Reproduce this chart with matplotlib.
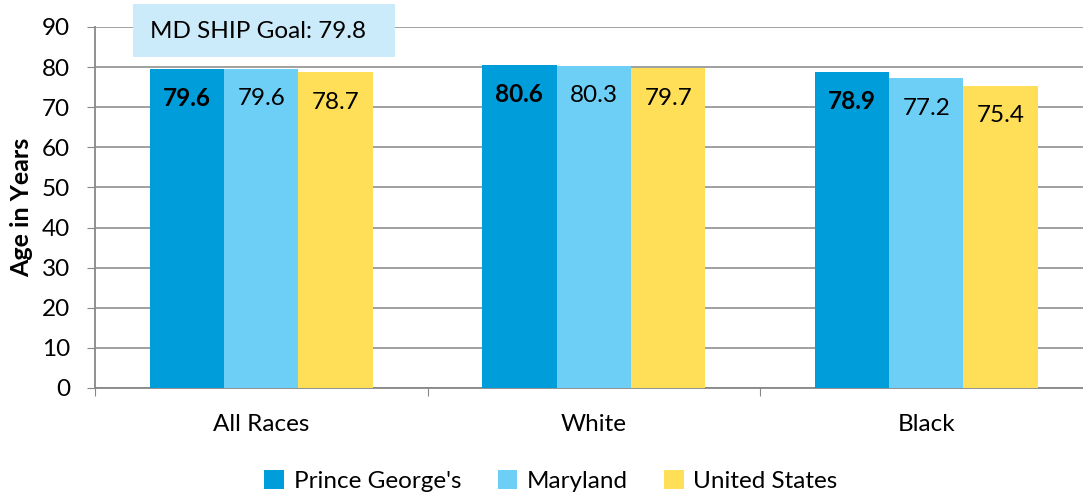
import matplotlib
matplotlib.use("Agg")
import matplotlib.pyplot as plt
from matplotlib.patches import Rectangle
import numpy as np

plt.rcParams['font.family'] = ['Lato', 'DejaVu Sans']

categories = ["All Races", "White", "Black"]
series_names = ["Prince George's", "Maryland", "United States"]
pg = [79.6, 80.6, 78.9]
md = [79.6, 80.3, 77.2]
us = [78.7, 79.7, 75.4]
goal_text = "MD SHIP Goal: 79.8"
colors = ["#009DDB", "#6DCFF6", "#FFDF57"]

FS = 17.5
W, H = 1083, 495
fig = plt.figure(figsize=(W/100, H/100), dpi=100)
ax = fig.add_axes([95/W, (H-388)/H, (1092.5-95)/W, (388-27)/H])

x = np.arange(len(categories))
bw = 0.224
for i, (vals, name, c) in enumerate(zip([pg, md, us], series_names, colors)):
    bars = ax.bar(x + (i-1)*bw, vals, bw, color=c, label=name, zorder=3)
    for b, v in zip(bars, vals):
        ax.text(b.get_x() + b.get_width()/2, v - 7.5, f"{v:.1f}",
                ha='center', va='center', fontsize=FS,
                fontweight='bold' if i == 0 else 'normal', color='black', zorder=4)

ax.set_xlim(-0.5, 2.5)
ax.set_ylim(0, 90)
ax.set_yticks(range(0, 91, 10))
ax.set_xticks([-0.5, 0.5, 1.5, 2.5], minor=False, labels=[""]*4)
ax.set_xticks(x, minor=True, labels=categories)
ax.tick_params(axis='x', which='minor', length=0, labelsize=FS, pad=19)
ax.tick_params(axis='x', which='major', length=6, color='#888888')
ax.tick_params(axis='y', length=6, color='#888888', labelsize=FS, pad=12)
ax.yaxis.grid(True, color='#999999', linewidth=1.3, zorder=0)
for s in ['top', 'right']:
    ax.spines[s].set_visible(False)
for s in ['left', 'bottom']:
    ax.spines[s].set_color('#888888')
    ax.spines[s].set_linewidth(1.3)
ax.set_ylabel("Age in Years", fontsize=18, fontweight='bold')
ax.yaxis.set_label_coords((33-95)/997.5, 0.5)

# goal box
fig.patches.append(Rectangle((133/W, (H-57)/H), (395-133)/W, (57-4)/H,
                             transform=fig.transFigure, facecolor='#CCEBFA',
                             edgecolor='none', zorder=5))
fig.text(258/W, (H-31)/H, goal_text, ha='center', va='center', fontsize=FS, zorder=6)

fig.legend(loc='center', bbox_to_anchor=(551/W, (H-481)/H), ncol=3, frameon=False,
           fontsize=FS, handlelength=0.8, handleheight=0.8, handletextpad=0.4,
           columnspacing=1.5)

fig.savefig("out.png", dpi=100)
